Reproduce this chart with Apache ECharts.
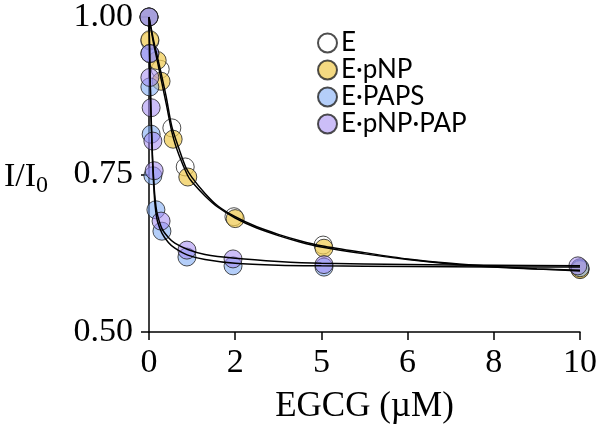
<!DOCTYPE html>
<html><head><meta charset="utf-8">
<script src="https://cdn.jsdelivr.net/npm/echarts@6/dist/echarts.min.js"></script>
<style>html,body{margin:0;padding:0;background:#fff}#c{width:603px;height:429px}</style>
</head><body><div id="c"></div>
<script>
// x positions as plotted on the (linear) axis, y = I/I0
const xTickLabels = ['0', '2', '5', '6', '8', '10'];
const yTicks = [0.50, 0.75, 1.00];
const seriesNames = ['E', 'E·pNP', 'E·PAPS', 'E·pNP·PAP'];

const ptsE = [[0,1.0],[0.02,0.962],[0.26,0.917],[0.53,0.824],[0.84,0.762],[1.97,0.683],[4.04,0.638],[10,0.600]];
const ptsPNP = [[0,1.0],[0.02,0.964],[0.19,0.931],[0.28,0.898],[0.56,0.806],[0.90,0.746],[2.0,0.680],[4.06,0.633],[10,0.599]];
const ptsPAPS = [[0,1.0],[0.02,0.942],[0.02,0.889],[0.05,0.814],[0.09,0.748],[0.16,0.694],[0.30,0.660],[0.88,0.619],[1.95,0.605],[4.06,0.603],[10,0.602]];
const ptsPNPPAP = [[0,1.0],[0.02,0.942],[0.02,0.904],[0.05,0.856],[0.09,0.803],[0.12,0.756],[0.28,0.676],[0.88,0.630],[1.95,0.616],[4.06,0.607],[9.95,0.605]];

// fitted curves
const fitE = [[0,1.0],[0.1,0.965],[0.2,0.935],[0.3,0.905],[0.4,0.873],[0.53,0.826],[0.7,0.79],[0.85,0.762],[1.0,0.745],[1.3,0.72],[1.6,0.70],[2.0,0.683],[2.5,0.667],[3,0.655],[3.5,0.645],[4,0.637],[5,0.626],[6,0.616],[7,0.609],[8,0.604],[9,0.600],[10,0.597]];
const fitPNP = [[0,1.0],[0.1,0.96],[0.2,0.928],[0.3,0.895],[0.4,0.862],[0.55,0.812],[0.7,0.78],[0.9,0.748],[1.0,0.738],[1.3,0.716],[1.6,0.698],[2.0,0.681],[2.5,0.665],[3,0.653],[3.5,0.643],[4,0.635],[5,0.624],[6,0.615],[7,0.608],[8,0.603],[9,0.600],[10,0.598]];
const fitPAPS = [[0,1.0],[0.02,0.92],[0.04,0.86],[0.06,0.815],[0.08,0.775],[0.1,0.745],[0.13,0.71],[0.16,0.69],[0.2,0.675],[0.3,0.657],[0.45,0.642],[0.6,0.633],[0.9,0.622],[1.3,0.615],[2,0.609],[3,0.606],[4,0.605],[6,0.604],[8,0.603],[10,0.603]];
const fitPNPPAP = [[0,1.0],[0.02,0.925],[0.04,0.865],[0.06,0.82],[0.08,0.78],[0.1,0.752],[0.13,0.72],[0.16,0.70],[0.2,0.685],[0.3,0.664],[0.45,0.65],[0.6,0.641],[0.9,0.631],[1.3,0.623],[2,0.617],[3,0.612],[4,0.609],[6,0.607],[8,0.606],[10,0.605]];

const fills = ['rgba(255,255,255,0)', 'rgba(240,203,80,0.9)', 'rgba(125,170,245,0.72)', 'rgba(160,135,242,0.68)'];
const pts = [ptsE, ptsPNP, ptsPAPS, ptsPNPPAP];
const fits = [fitE, fitPNP, fitPAPS, fitPNPPAP];

const chart = echarts.init(document.getElementById('c'), null, {renderer: 'canvas'});
const serif = 'Liberation Serif, Times New Roman, serif';
const series = [];
pts.forEach((p, i) => {
  series.push({
    name: seriesNames[i], type: 'scatter', data: p, symbol: 'circle', symbolSize: 18, z: 2 + i,
    itemStyle: {color: fills[i], borderColor: '#222', borderWidth: 1}
  });
});
fits.forEach((f, i) => {
  series.push({
    name: 'fit' + i, type: 'line', data: f, smooth: 0.3, symbol: 'none', z: 10,
    lineStyle: {color: '#000', width: 1.5}
  });
});

chart.setOption({
  animation: false,
  backgroundColor: '#fff',
  grid: {left: 149, right: 23, top: 15, bottom: 87},
  legend: {
    data: seriesNames, orient: 'vertical', left: 312, top: 25, itemGap: 1,
    itemWidth: 19, itemHeight: 19, icon: 'circle',
    textStyle: {fontFamily: 'Lato, Open Sans, sans-serif', fontSize: 26, color: '#000', padding: [0, 0, 0, -1]}
  },
  xAxis: {
    type: 'value', min: 0, max: 10, interval: 2,
    axisLine: {show: true, onZero: false, lineStyle: {color: '#000', width: 1.5}},
    axisTick: {show: true, length: 8, lineStyle: {color: '#000', width: 1.5}},
    splitLine: {show: false},
    axisLabel: {
      formatter: v => xTickLabels[Math.round(v / 2)],
      fontFamily: serif, fontSize: 34, color: '#000', margin: 14
    },
    name: 'EGCG (µM)', nameLocation: 'middle', nameGap: 57,
    nameTextStyle: {fontFamily: serif, fontSize: 35, color: '#000'}
  },
  yAxis: {
    type: 'value', min: yTicks[0], max: yTicks[yTicks.length - 1], interval: 0.25,
    axisLine: {show: true, onZero: false, lineStyle: {color: '#000', width: 1.5}},
    axisTick: {show: true, length: 8, lineStyle: {color: '#000', width: 1.5}},
    splitLine: {show: false},
    axisLabel: {formatter: v => v.toFixed(2), fontFamily: serif, fontSize: 34, color: '#000', margin: 16}
  },
  graphic: [{
    type: 'text', left: 4, top: 160,
    style: {
      text: '{a|I/I}{b|0}',
      rich: {
        a: {fontFamily: serif, fontSize: 34, fill: '#000'},
        b: {fontFamily: serif, fontSize: 24, fill: '#000', padding: [18, 0, 0, 0]}
      }
    }
  }],
  series: series
});
</script></body></html>
